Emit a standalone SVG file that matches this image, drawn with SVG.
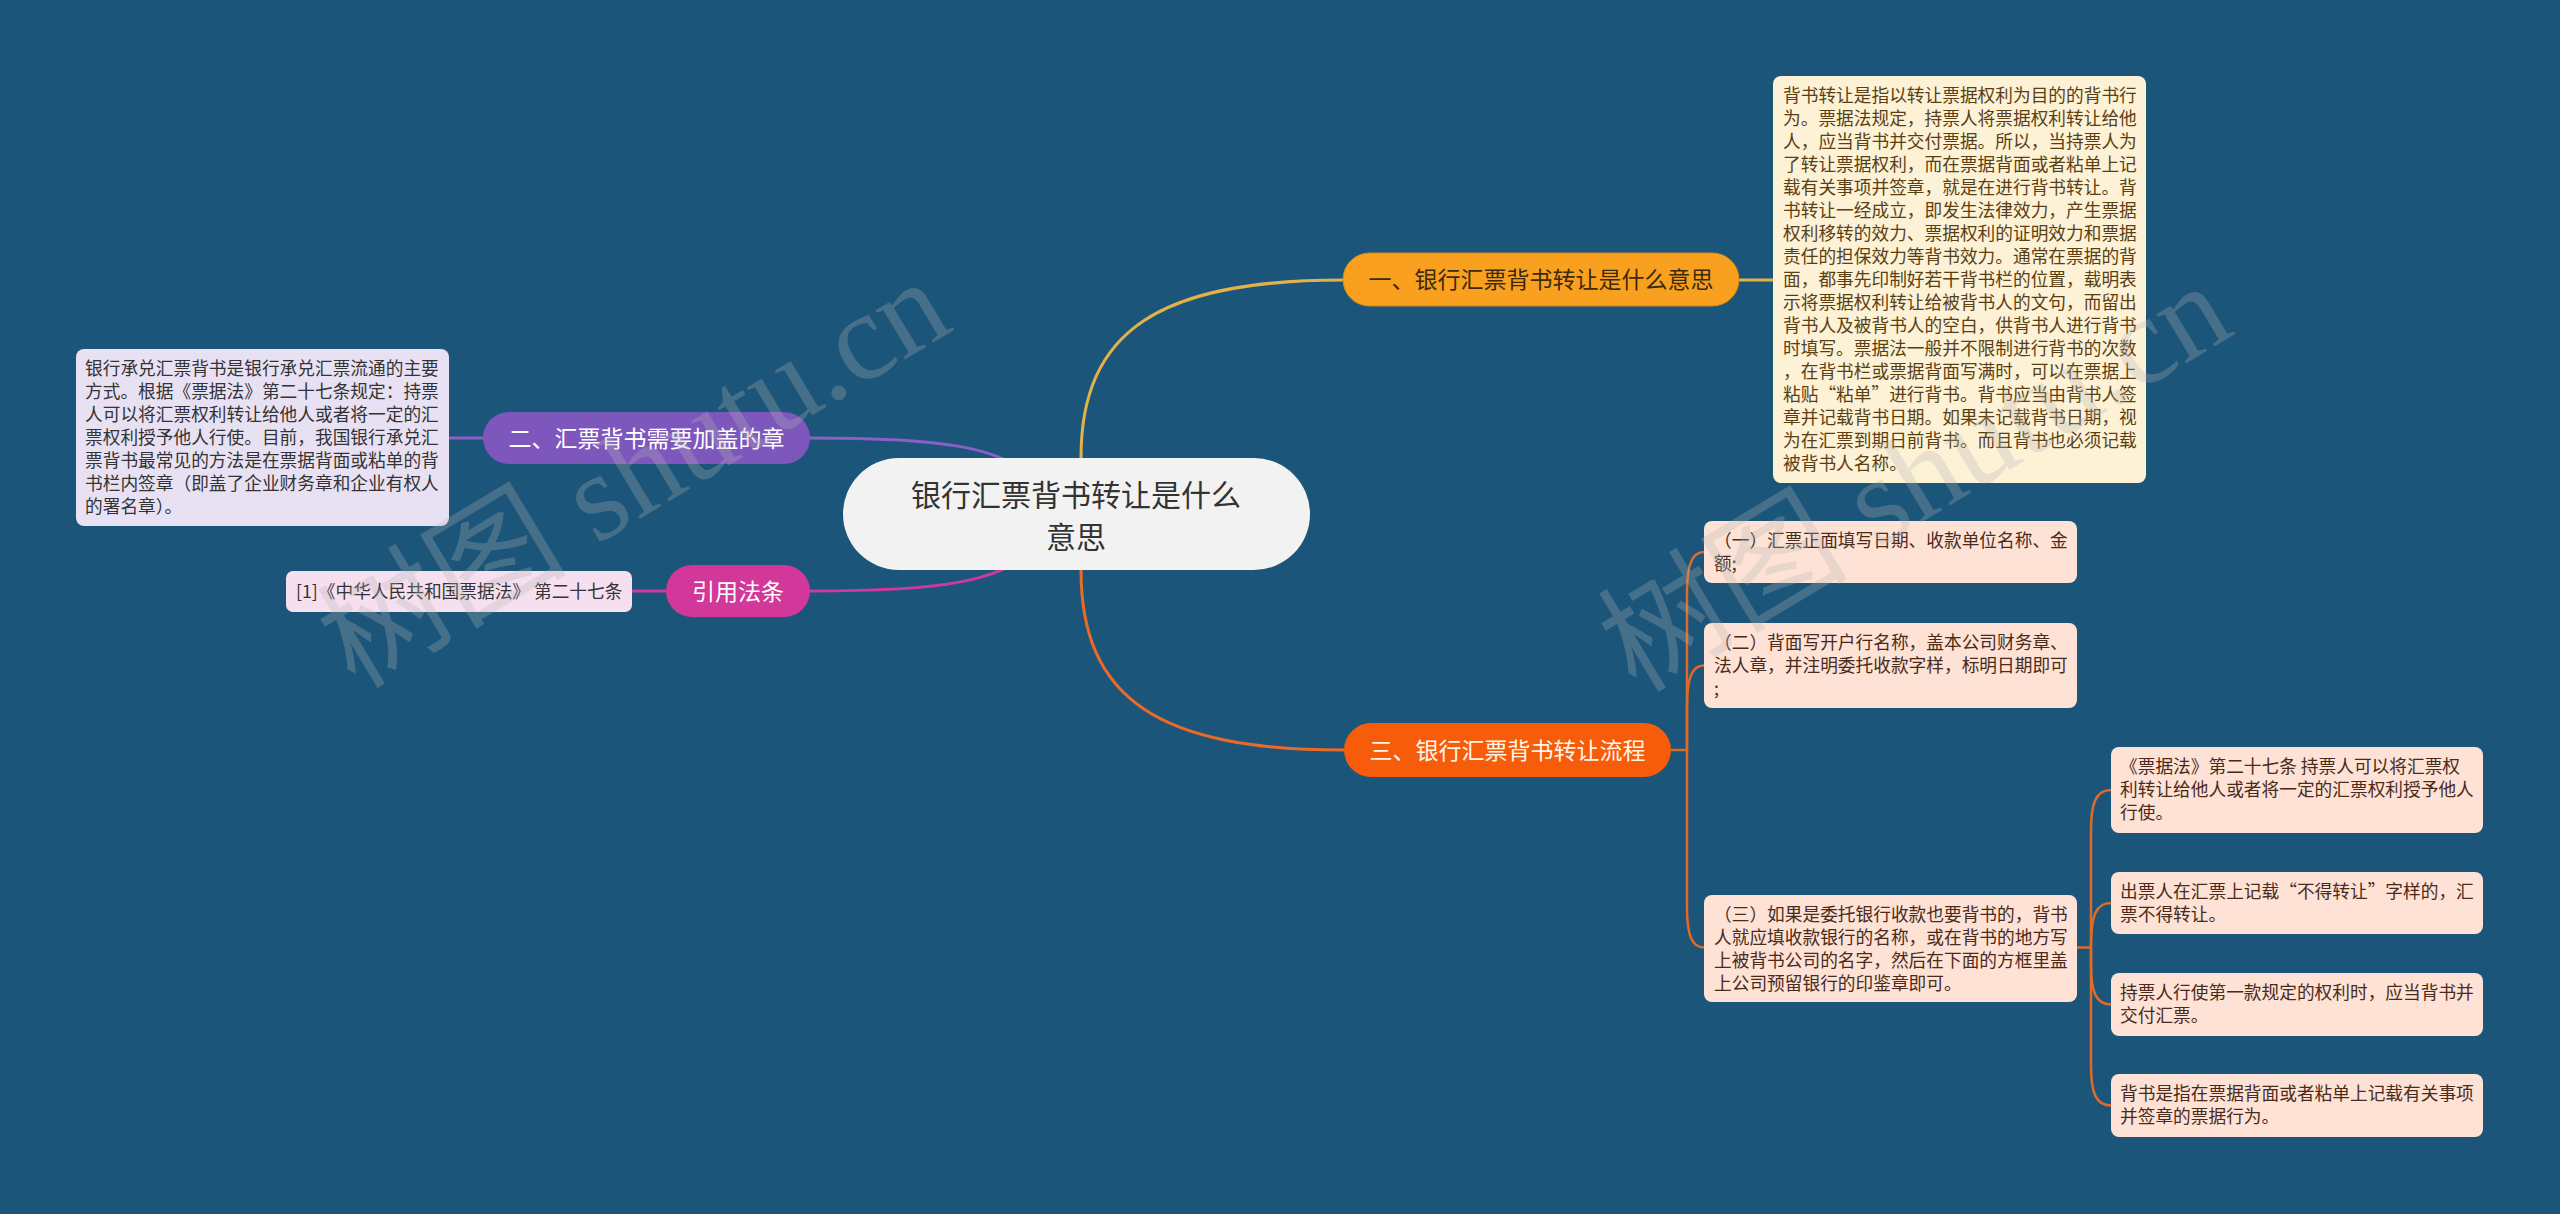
<svg xmlns="http://www.w3.org/2000/svg" width="2560" height="1214" viewBox="0 0 2560 1214">
<style>
text{font-family:"Noto Sans CJK SC","Noto Sans",sans-serif}
.lf{font-size:17.7px}
.br{font-size:23px;text-anchor:middle}
.c{fill:none;stroke-linecap:round}
.wm{font-family:"Liberation Serif","Noto Sans CJK SC",serif;font-size:125px;fill:#b4b4b4;opacity:0.28}
</style>
<rect x="0" y="0" width="2560" height="1214" fill="#1b5579"/>
<g id="connectors">
<path class="c" d="M1081,458 C1081,330 1160,280 1343,280" stroke="#e2b24a" stroke-width="3"/>
<path class="c" d="M1081,570 C1081,700 1160,750 1344,750" stroke="#ea6a26" stroke-width="3"/>
<path class="c" d="M1030,475 C995,448 950,438 810,438" stroke="#8a5fc6" stroke-width="3"/>
<path class="c" d="M1030,553 C995,580 950,591 810,591" stroke="#cc3b9c" stroke-width="3"/>
<path class="c" d="M449,438 H483" stroke="#8a5fc6" stroke-width="3"/>
<path class="c" d="M632,591 H666" stroke="#cc3b9c" stroke-width="3"/>
<path class="c" d="M1739,280 H1773" stroke="#e2b24a" stroke-width="3"/>
<g stroke="#e06a2a" stroke-width="2.5" fill="none">
<path d="M1671,750 H1687"/>
<path d="M1687,750 V592 C1687,565 1692,552 1704,552"/>
<path d="M1687,750 V705 C1687,678 1692,665.5 1704,665.5"/>
<path d="M1687,750 V908 C1687,935 1692,947.5 1704,947.5"/>
<path d="M2077,947.5 H2091"/>
<path d="M2091,947.5 V830 C2091,803 2096,790 2111,790"/>
<path d="M2091,947.5 C2091,915 2096,903 2111,903"/>
<path d="M2091,947.5 V965 C2091,992 2096,1004.5 2111,1004.5"/>
<path d="M2091,947.5 V1066 C2091,1093 2096,1105.5 2111,1105.5"/>
</g>
</g>
<g id="root">
<rect x="843" y="458" width="467" height="112" rx="56" fill="#f2f2f2"/>
<text x="1076" y="506" font-size="30" text-anchor="middle" fill="#333333">银行汇票背书转让是什么</text>
<text x="1076" y="548" font-size="30" text-anchor="middle" fill="#333333">意思</text>
</g>
<g id="b1">
<rect x="1343" y="253" width="396" height="53" rx="26.5" fill="#f9a11e" stroke="#d8870f" stroke-width="1"/>
<text class="br" x="1541" y="288" fill="#3d2a0c">一、银行汇票背书转让是什么意思</text>
</g>
<g id="b2">
<rect x="483" y="412" width="327" height="52" rx="26" fill="#7e57bd"/>
<text class="br" x="646.5" y="446.5" fill="#ffffff">二、汇票背书需要加盖的章</text>
</g>
<g id="b3">
<rect x="1344" y="723" width="327" height="54" rx="27" fill="#f75c0a"/>
<text class="br" x="1507.5" y="758.5" fill="#fff6ea">三、银行汇票背书转让流程</text>
</g>
<g id="b4">
<rect x="666" y="565" width="144" height="52" rx="26" fill="#d2379a"/>
<text class="br" x="738" y="599.5" fill="#ffffff">引用法条</text>
</g>
<g id="leaf1">
<rect x="1773" y="76" width="373" height="407" rx="8" fill="#fdf1d6"/>
<g class="lf" fill="#5a3f12">
<text x="1783" y="102">背书转让是指以转让票据权利为目的的背书行</text>
<text x="1783" y="125">为。票据法规定，持票人将票据权利转让给他</text>
<text x="1783" y="148">人，应当背书并交付票据。所以，当持票人为</text>
<text x="1783" y="171">了转让票据权利，而在票据背面或者粘单上记</text>
<text x="1783" y="194">载有关事项并签章，就是在进行背书转让。背</text>
<text x="1783" y="217">书转让一经成立，即发生法律效力，产生票据</text>
<text x="1783" y="240">权利移转的效力、票据权利的证明效力和票据</text>
<text x="1783" y="263">责任的担保效力等背书效力。通常在票据的背</text>
<text x="1783" y="286">面，都事先印制好若干背书栏的位置，载明表</text>
<text x="1783" y="309">示将票据权利转让给被背书人的文句，而留出</text>
<text x="1783" y="332">背书人及被背书人的空白，供背书人进行背书</text>
<text x="1783" y="355">时填写。票据法一般并不限制进行背书的次数</text>
<text x="1783" y="378">，在背书栏或票据背面写满时，可以在票据上</text>
<text x="1783" y="401">粘贴“粘单”进行背书。背书应当由背书人签</text>
<text x="1783" y="424">章并记载背书日期。如果未记载背书日期，视</text>
<text x="1783" y="447">为在汇票到期日前背书。而且背书也必须记载</text>
<text x="1783" y="470">被背书人名称。</text>
</g>
</g>
<g id="leaf2">
<rect x="76" y="349" width="373" height="177" rx="8" fill="#e8e1f3"/>
<g class="lf" fill="#333333">
<text x="85" y="375">银行承兑汇票背书是银行承兑汇票流通的主要</text>
<text x="85" y="398">方式。根据《票据法》第二十七条规定：持票</text>
<text x="85" y="421">人可以将汇票权利转让给他人或者将一定的汇</text>
<text x="85" y="444">票权利授予他人行使。目前，我国银行承兑汇</text>
<text x="85" y="467">票背书最常见的方法是在票据背面或粘单的背</text>
<text x="85" y="490">书栏内签章（即盖了企业财务章和企业有权人</text>
<text x="85" y="513">的署名章）。</text>
</g>
</g>
<g id="leaf4">
<rect x="286" y="571" width="346" height="41" rx="7" fill="#f6e0ef"/>
<text class="lf" x="296" y="598" fill="#333333">[1]《中华人民共和国票据法》 第二十七条</text>
</g>
<g id="leaf3a">
<rect x="1704" y="521" width="373" height="62" rx="8" fill="#fde2d5"/>
<g class="lf" fill="#4a2a1a">
<text x="1714" y="547">（一）汇票正面填写日期、收款单位名称、金</text>
<text x="1714" y="570">额;</text>
</g>
</g>
<g id="leaf3b">
<rect x="1704" y="623" width="373" height="85" rx="8" fill="#fde2d5"/>
<g class="lf" fill="#4a2a1a">
<text x="1714" y="649">（二）背面写开户行名称，盖本公司财务章、</text>
<text x="1714" y="672">法人章，并注明委托收款字样，标明日期即可</text>
<text x="1714" y="695">;</text>
</g>
</g>
<g id="leaf3c">
<rect x="1704" y="895" width="373" height="107" rx="8" fill="#fde2d5"/>
<g class="lf" fill="#4a2a1a">
<text x="1714" y="921">（三）如果是委托银行收款也要背书的，背书</text>
<text x="1714" y="944">人就应填收款银行的名称，或在背书的地方写</text>
<text x="1714" y="967">上被背书公司的名字，然后在下面的方框里盖</text>
<text x="1714" y="990">上公司预留银行的印鉴章即可。</text>
</g>
</g>
<g id="sub1">
<rect x="2111" y="747" width="372" height="86" rx="8" fill="#fde2d5"/>
<g class="lf" fill="#4a2a1a">
<text x="2120" y="773">《票据法》第二十七条 持票人可以将汇票权</text>
<text x="2120" y="796">利转让给他人或者将一定的汇票权利授予他人</text>
<text x="2120" y="819">行使。</text>
</g>
</g>
<g id="sub2">
<rect x="2111" y="872" width="372" height="62" rx="8" fill="#fde2d5"/>
<g class="lf" fill="#4a2a1a">
<text x="2120" y="898">出票人在汇票上记载“不得转让”字样的，汇</text>
<text x="2120" y="921">票不得转让。</text>
</g>
</g>
<g id="sub3">
<rect x="2111" y="973" width="372" height="63" rx="8" fill="#fde2d5"/>
<g class="lf" fill="#4a2a1a">
<text x="2120" y="999">持票人行使第一款规定的权利时，应当背书并</text>
<text x="2120" y="1022">交付汇票。</text>
</g>
</g>
<g id="sub4">
<rect x="2111" y="1074" width="372" height="63" rx="8" fill="#fde2d5"/>
<g class="lf" fill="#4a2a1a">
<text x="2120" y="1100">背书是指在票据背面或者粘单上记载有关事项</text>
<text x="2120" y="1123">并签章的票据行为。</text>
</g>
</g>
<g id="watermarks">
<text class="wm" transform="translate(355,690) rotate(-31)">树图 shutu.cn</text>
<text class="wm" transform="translate(1636,694) rotate(-31)">树图 shutu.cn</text>
</g>
</svg>
